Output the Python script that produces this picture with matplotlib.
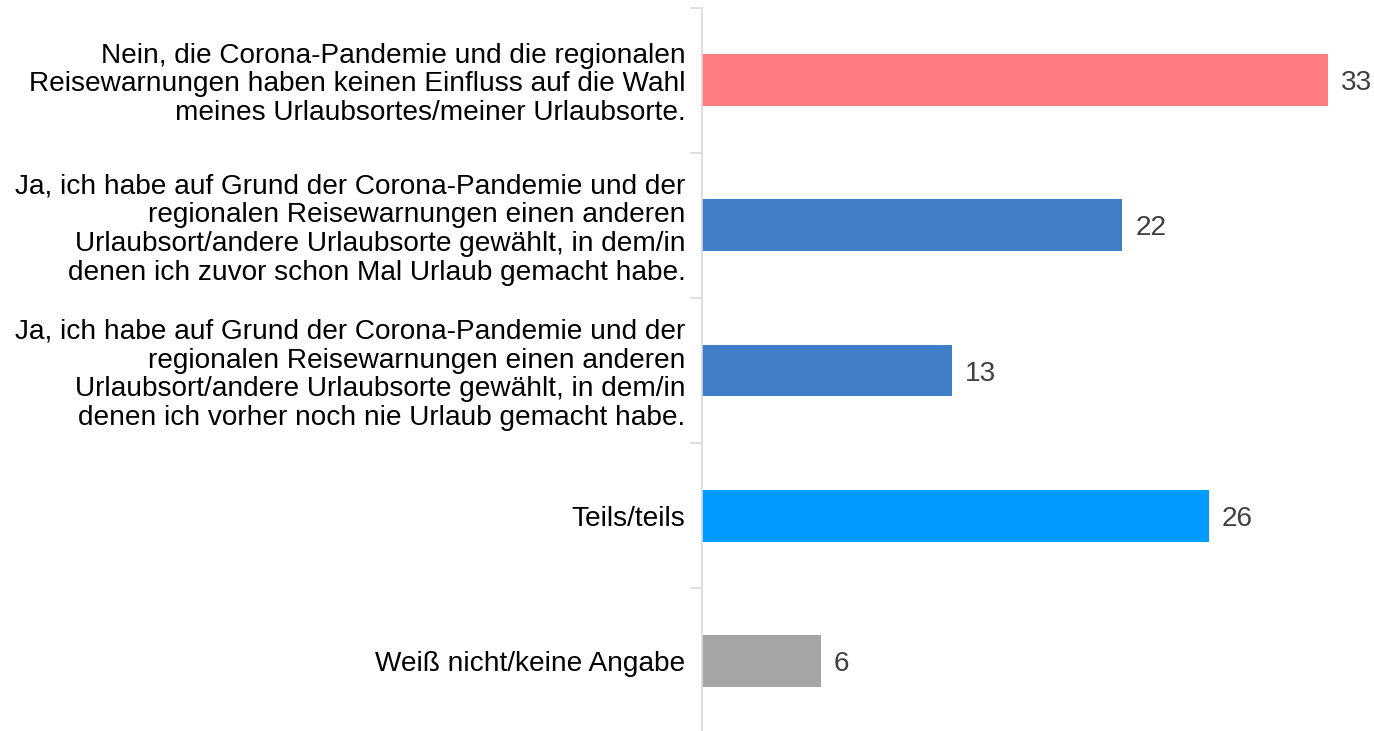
import matplotlib
matplotlib.use("Agg")
import matplotlib.pyplot as plt

categories = [
    "Nein, die Corona-Pandemie und die regionalen\nReisewarnungen haben keinen Einfluss auf die Wahl\nmeines Urlaubsortes/meiner Urlaubsorte.",
    "Ja, ich habe auf Grund der Corona-Pandemie und der\nregionalen Reisewarnungen einen anderen\nUrlaubsort/andere Urlaubsorte gewählt, in dem/in\ndenen ich zuvor schon Mal Urlaub gemacht habe.",
    "Ja, ich habe auf Grund der Corona-Pandemie und der\nregionalen Reisewarnungen einen anderen\nUrlaubsort/andere Urlaubsorte gewählt, in dem/in\ndenen ich vorher noch nie Urlaub gemacht habe.",
    "Teils/teils",
    "Weiß nicht/keine Angabe",
]
values = [32.6, 21.9, 13.0, 26.4, 6.2]
value_labels = ["33", "22", "13", "26", "6"]
colors = ["#FF7C80", "#407EC8", "#407EC8", "#009BFF", "#A6A6A6"]

plt.rcParams['font.family'] = ['Liberation Sans', 'DejaVu Sans']

fig = plt.figure(figsize=(13.74, 7.31), dpi=100)
W, H = 1374, 731
left_px, top_px, bottom_px = 702, 7.5, 733.5
ax = fig.add_axes([left_px / W, 1 - bottom_px / H, 1 - left_px / W, (bottom_px - top_px) / H])

y = list(range(len(categories)))
ax.barh(y, values, height=0.358, color=colors)
ax.set_ylim(len(categories) - 0.5, -0.5)
ax.set_xlim(0, 672 / 19.2)

ax.set_yticks(y)
ax.set_yticklabels(categories, fontsize=20.2, color="#000000", linespacing=1.13)
ax.tick_params(axis='y', which='major', length=0, pad=12)
ax.set_yticks([i - 0.5 for i in range(len(categories) + 1)], minor=True)
ax.tick_params(axis='y', which='minor', length=9, color="#D9D9D9", width=1.2)
ax.set_xticks([])

for s in ["top", "right", "bottom"]:
    ax.spines[s].set_visible(False)
ax.spines["left"].set_color("#D9D9D9")
ax.spines["left"].set_linewidth(1.2)

for yi, v, lab in zip(y, values, value_labels):
    ax.annotate(lab, xy=(v, yi), xytext=(13, -3), textcoords="offset pixels",
                va="center", ha="left", fontsize=20.2, color="#404040")

fig.savefig("out.png", dpi=100)
